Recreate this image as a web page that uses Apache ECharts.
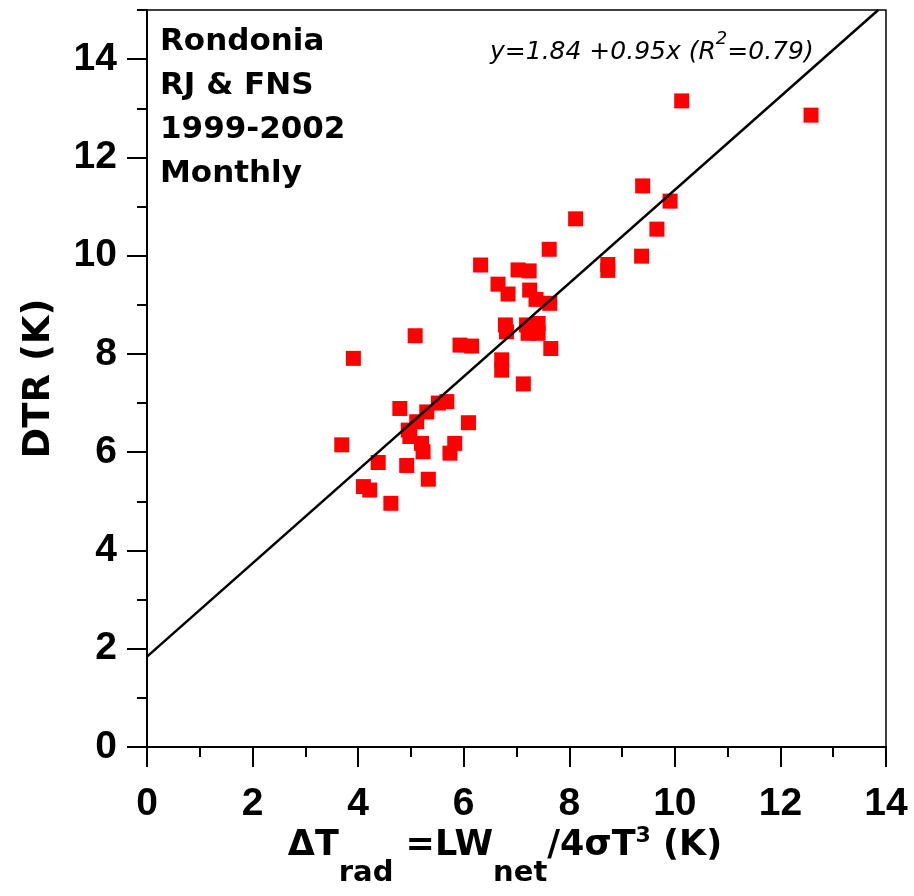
<!DOCTYPE html>
<html>
<head>
<meta charset="utf-8">
<script src="https://cdn.jsdelivr.net/npm/echarts@6/dist/echarts.min.js"></script>
<style>
html,body{margin:0;padding:0;background:#fff;}
#chart{width:914px;height:896px;}
</style>
</head>
<body>
<div id="chart"></div>
<script>
// ---- data ----
const xVals = [10.13, 12.58, 9.39, 9.91, 8.12, 9.66, 7.62, 9.37, 8.73, 8.73,
  6.32, 7.03, 7.24, 6.65, 6.84, 7.25, 7.37, 7.63, 6.79, 6.81,
  7.19, 7.41, 7.22, 7.41, 7.65, 5.08, 3.91, 5.93, 6.15, 6.72,
  6.72, 7.13, 5.68, 5.52, 4.79, 5.30, 5.11, 6.09, 4.95, 4.98,
  5.20, 5.23, 5.83, 5.74, 3.69, 4.38, 4.92, 5.33, 4.10, 4.22, 4.62];
const yVals = [13.15, 12.86, 11.42, 11.11, 10.75, 10.54, 10.13, 9.99, 9.82, 9.70,
  9.81, 9.71, 9.69, 9.42, 9.22, 9.30, 9.11, 9.03, 8.59, 8.45,
  8.59, 8.62, 8.42, 8.42, 8.11, 8.37, 7.91, 8.18, 8.16, 7.88,
  7.67, 7.39, 7.03, 7.00, 6.89, 6.82, 6.62, 6.60, 6.45, 6.32,
  6.18, 6.01, 6.18, 5.98, 6.15, 5.79, 5.73, 5.45, 5.30, 5.23, 4.96];
const fitIntercept = 1.84;
const fitSlope = 0.95;
const fitR2 = 0.79;
const xMajorTicks = [0, 2, 4, 6, 8, 10, 12, 14];
const yMajorTicks = [0, 2, 4, 6, 8, 10, 12, 14];
const yMinorTicks = [0, 1, 2, 3, 4, 5, 6, 7, 8, 9, 10, 11, 12, 13, 14, 15];
const xRange = [0, 14];
const yRange = [0, 15];
const infoLines = ['Rondonia', 'RJ & FNS', '1999-2002', 'Monthly'];
const yTitle = 'DTR (K)';
// x title pieces: [text, role]  (role: m = main, s = subscript, p = superscript)
const xTitleParts = [['ΔT', 'm'], ['rad', 's'], [' =LW', 'm'], ['net', 's'], ['/4σT', 'm'], ['3', 'p'], [' (K)', 'm']];

// ---- build ----
const points = xVals.map((x, i) => [x, yVals[i]]);
const xEnd = Math.min(xRange[1], (yRange[1] - fitIntercept) / fitSlope);
const fitLine = [[xRange[0], fitIntercept + fitSlope * xRange[0]], [xEnd, fitIntercept + fitSlope * xEnd]];

const tickFont = {fontFamily: 'Liberation Sans', fontWeight: 'bold', fontSize: 39, color: '#000'};
const titleFam = 'DejaVu Sans';

// x-axis title laid out piece by piece (sub/superscripts)
const roleFont = {
  m: 'bold 35px "DejaVu Sans"',
  s: 'bold 29px "DejaVu Sans"',
  p: 'bold 22px "DejaVu Sans"'
};
const roleDy = {m: 0, s: 27, p: -10};
const mctx = document.createElement('canvas').getContext('2d');
function textW(font, s) { mctx.font = font; return mctx.measureText(s).width; }
const widths = xTitleParts.map(p => textW(roleFont[p[1]], p[0]));
const totalW = widths.reduce((a, b) => a + b, 0);
const titleCX = 505, titleCY = 846;
let cursor = titleCX - totalW / 2;
const xTitleChildren = xTitleParts.map((p, i) => {
  const el = {
    type: 'text', x: cursor, y: titleCY + roleDy[p[1]],
    style: {text: p[0], font: roleFont[p[1]], fill: '#000', align: 'left', verticalAlign: 'middle'}
  };
  cursor += widths[i];
  return el;
});

const chart = echarts.init(document.getElementById('chart'), null, {renderer: 'canvas'});
chart.setOption({
  backgroundColor: '#fff',
  animation: false,
  grid: {left: 147, right: 28, top: 10, bottom: 149, show: true, borderColor: '#000', borderWidth: 1.5,
    backgroundColor: 'transparent', containLabel: false, outerBoundsMode: 'none'},
  xAxis: {
    type: 'value', min: xRange[0], max: xRange[1], interval: 2,
    axisLine: {show: true, lineStyle: {color: '#000', width: 2}},
    axisTick: {show: true, length: 20, lineStyle: {color: '#000', width: 2}},
    minorTick: {show: true, splitNumber: 2, length: 10, lineStyle: {color: '#000', width: 2}},
    splitLine: {show: false},
    axisLabel: Object.assign({margin: 38, customValues: xMajorTicks}, tickFont)
  },
  yAxis: [{
    type: 'value', min: yRange[0], max: yRange[1], interval: 1,
    axisLine: {show: true, lineStyle: {color: '#000', width: 2}},
    axisTick: {show: true, length: 10, customValues: yMinorTicks, lineStyle: {color: '#000', width: 2}},
    splitLine: {show: false},
    axisLabel: {show: false},
    name: yTitle, nameLocation: 'middle', nameGap: 89, nameRotate: 90,
    nameTextStyle: {fontFamily: titleFam, fontWeight: 'bold', fontSize: 37, color: '#000'}
  }, {
    type: 'value', min: yRange[0], max: yRange[1], interval: 1, position: 'left',
    axisLine: {show: false},
    axisTick: {show: true, length: 20, customValues: yMajorTicks, lineStyle: {color: '#000', width: 2}},
    splitLine: {show: false},
    axisLabel: Object.assign({margin: 30, customValues: yMajorTicks}, tickFont)
  }],
  graphic: [{
    type: 'text', left: 160, top: 20,
    style: {
      text: infoLines.join('\n'),
      font: 'bold 31px "DejaVu Sans"', lineHeight: 44, fill: '#000'
    }
  }, {
    type: 'text', left: 490, top: 30,
    style: {
      text: '{e|y=' + fitIntercept.toFixed(2) + ' +' + fitSlope.toFixed(2) + 'x (R}{s|2}{e|=' + fitR2.toFixed(2) + ')}',
      rich: {
        e: {fontFamily: titleFam, fontStyle: 'italic', fontSize: 25, lineHeight: 44, fill: '#000', color: '#000'},
        s: {fontFamily: titleFam, fontStyle: 'italic', fontSize: 18, lineHeight: 12, verticalAlign: 'top', fill: '#000', color: '#000'}
      }
    }
  }, {
    type: 'group', x: 0, y: 0, children: xTitleChildren
  }],
  series: [{
    type: 'scatter', data: points, symbol: 'rect', symbolSize: 15,
    itemStyle: {color: '#ff0000', opacity: 1}, z: 2
  }, {
    type: 'line', data: fitLine, showSymbol: false, symbol: 'none',
    lineStyle: {color: '#000', width: 2.5}, z: 3, clip: true
  }]
});
</script>
</body>
</html>
